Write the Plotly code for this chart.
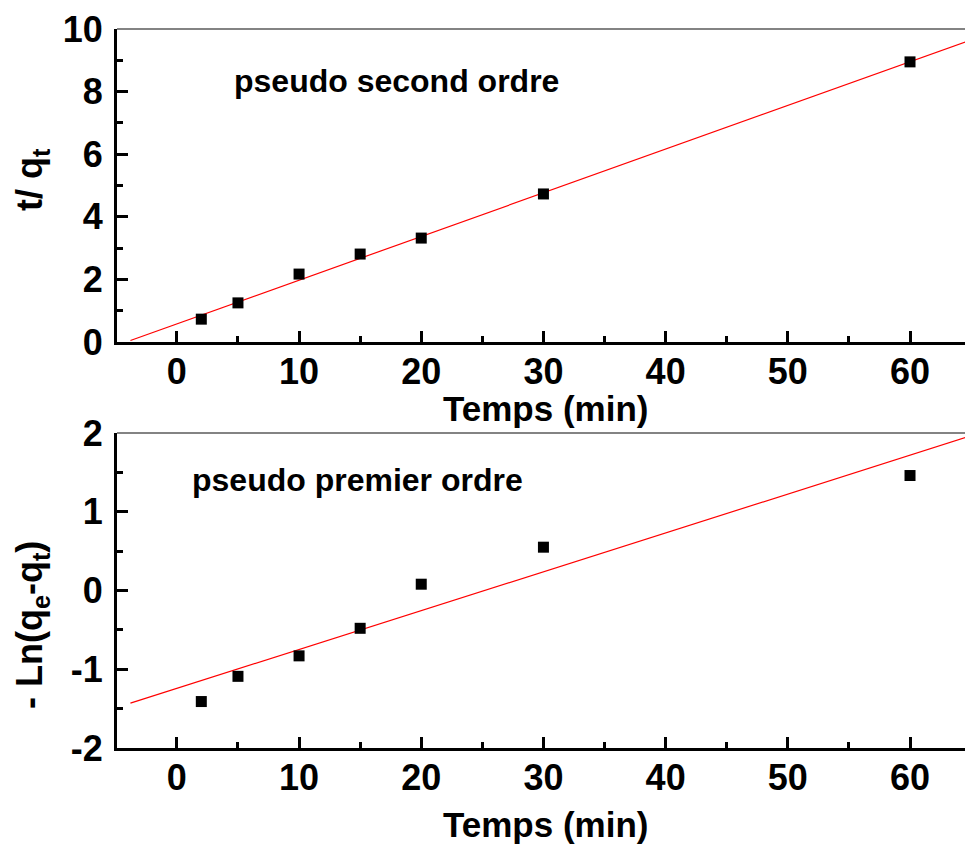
import plotly.graph_objects as go

# ---- data ----
time_min = [2, 5, 10, 15, 20, 30, 60]
t_over_qt = [0.73, 1.25, 2.17, 2.81, 3.32, 4.73, 8.95]          # pseudo second order
neg_ln_qe_qt = [-1.41, -1.09, -0.83, -0.48, 0.08, 0.55, 1.46]    # pseudo first order

fit2_x = [-3.8, 65]
fit2_y = [0.05, 9.65]
fit1_x = [-3.8, 65]
fit1_y = [-1.43, 1.965]

x_ticks = [0, 10, 20, 30, 40, 50, 60]
y2_ticks = [0, 2, 4, 6, 8, 10]
y1_ticks = [-2, -1, 0, 1, 2]

W, H = 965, 848
FONT = "Liberation Sans"

fig = go.Figure()

fig.add_trace(go.Scatter(x=fit2_x, y=fit2_y, mode="lines",
                         line=dict(color="#ff0000", width=1.2),
                         xaxis="x", yaxis="y", showlegend=False))
fig.add_trace(go.Scatter(x=time_min, y=t_over_qt, mode="markers",
                         marker=dict(symbol="square", size=11, color="black"),
                         xaxis="x", yaxis="y", showlegend=False))
fig.add_trace(go.Scatter(x=fit1_x, y=fit1_y, mode="lines",
                         line=dict(color="#ff0000", width=1.2),
                         xaxis="x2", yaxis="y2", showlegend=False))
fig.add_trace(go.Scatter(x=time_min, y=neg_ln_qe_qt, mode="markers",
                         marker=dict(symbol="square", size=11, color="black"),
                         xaxis="x2", yaxis="y2", showlegend=False))

tickfont = dict(family=FONT, size=36, color="black", weight="bold")

def xax(anchor):
    return dict(domain=[117 / W, 1], range=[-4.9, 64.5], anchor=anchor,
                automargin=False,
                showline=True, linewidth=3, linecolor="black",
                showgrid=False, zeroline=False,
                ticks="inside", ticklen=11, tickwidth=3, tickcolor="black",
                tickvals=x_ticks, ticktext=[str(v) for v in x_ticks],
                minor=dict(ticks="inside", ticklen=6, tickwidth=3,
                           tickcolor="black", dtick=5, tick0=0, showgrid=False),
                tickfont=tickfont, ticklabelstandoff=-4)

def yax(anchor, dom, rng, vals, mdt):
    return dict(domain=dom, range=rng, anchor=anchor,
                automargin=False,
                showline=True, linewidth=3, linecolor="black",
                showgrid=False, zeroline=False,
                ticks="inside", ticklen=11, tickwidth=3, tickcolor="black",
                tickvals=vals, ticktext=[str(v) for v in vals],
                minor=dict(ticks="inside", ticklen=6, tickwidth=3,
                           tickcolor="black", dtick=mdt, tick0=0, showgrid=False),
                tickfont=tickfont, ticklabelstandoff=4)

fig.update_layout(
    width=W, height=H,
    margin=dict(l=0, r=0, t=0, b=0, autoexpand=False),
    paper_bgcolor="white", plot_bgcolor="white",
    xaxis=xax("y"),
    yaxis=yax("x", [1 - 342 / H, 1 - 29 / H], [0, 10], y2_ticks, 1),
    xaxis2=xax("y2"),
    yaxis2=yax("x2", [1 - 748 / H, 1 - 433 / H], [-2, 2], y1_ticks, 0.5),
)

# thin top frame lines
for xr, yr in (("x domain", "y domain"), ("x2 domain", "y2 domain")):
    fig.add_shape(type="line", xref=xr, yref=yr, x0=0, x1=1, y0=1, y1=1,
                  line=dict(color="#5a5a5a", width=1.5))

def ann(text, px, py, size, angle=0, xanchor="center"):
    fig.add_annotation(text=text, x=px / W, y=1 - py / H, xref="paper", yref="paper",
                       showarrow=False, xanchor=xanchor, yanchor="middle",
                       textangle=angle,
                       font=dict(family=FONT, size=size, color="black", weight="bold"))

ann("Temps (min)", 545, 408, 35)
ann("Temps (min)", 545, 824, 35)
ann("t/ q<sub>t</sub>", 32, 180, 36, angle=-90)
ann("- Ln(q<sub>e</sub>-q<sub>t</sub>)", 32, 625, 36, angle=-90)
ann("pseudo second ordre", 232, 81, 32, xanchor="left")
ann("pseudo premier ordre", 190, 480, 32, xanchor="left")

fig.write_html("out.html")
